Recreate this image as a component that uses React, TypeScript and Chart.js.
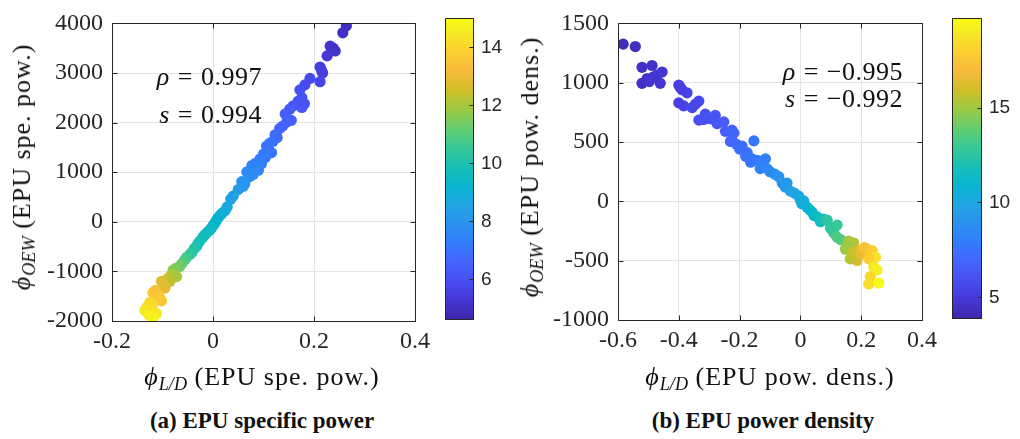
import React, { useEffect, useRef } from "react";
import { Chart, registerables } from "chart.js";

Chart.register(...registerables);

// ---------------- data: (a) EPU specific power ----------------
const A_X = [
  0.264, 0.257, 0.232, 0.242, 0.235, 0.238, 0.226, 0.212, 0.215, 0.217,
  0.212, 0.192, 0.182, 0.172, 0.176, 0.169, 0.176, 0.181, 0.159, 0.152,
  0.143, 0.155, 0.146, 0.132, 0.138, 0.123, 0.127, 0.119, 0.106, 0.112,
  0.116, 0.1, 0.104, 0.093, 0.096, 0.077, 0.084, 0.09, 0.067, 0.073,
  0.08, 0.057, 0.06, 0.063, 0.05, 0.035, 0.04, 0.024, 0.028, 0.014,
  0.018, 0.007, 0.01, 0.001, 0.004, -0.006, -0.002, -0.01, -0.016, -0.02,
  -0.026, -0.03, -0.032, -0.037, -0.042, -0.046, -0.052, -0.056, -0.062, -0.066,
  -0.079, -0.074, -0.072, -0.082, -0.089, -0.085, -0.102, -0.095, -0.098, -0.109,
  -0.119, -0.114, -0.102, -0.106, -0.125, -0.131, -0.12, -0.135, -0.122, -0.112,
  -0.119, -0.127,
];
const A_Y = [
  3950, 3810, 3540, 3445, 3475, 3500, 3345, 3120, 3050, 3000,
  2825, 2890, 2760, 2660, 2500, 2435, 2305, 2380, 2340, 2270,
  2175, 2045, 2010, 1880, 1930, 1755, 1700, 1625, 1525, 1580,
  1395, 1365, 1300, 1265, 1170, 1135, 1180, 1040, 1005, 910,
  960, 810, 715, 770, 650, 455, 520, 226, 300, 130,
  170, 30, 80, -66, -20, -165, -110, -200, -260, -310,
  -390, -440, -487, -540, -620, -660, -715, -770, -845, -900,
  -975, -940, -1105, -1060, -1140, -1200, -1200, -1335, -1270, -1460,
  -1430, -1380, -1595, -1520, -1625, -1720, -1680, -1790, -1755, -1850,
  -1950, -1880,
];
const A_C = [
  4.9, 5.0, 5.2, 5.1, 5.2, 5.1, 5.3, 5.5, 5.5, 5.5,
  5.7, 5.8, 5.9, 6.0, 6.1, 6.1, 6.2, 6.1, 6.2, 6.3,
  6.4, 6.5, 6.5, 6.7, 6.6, 6.8, 6.8, 6.9, 7.0, 7.0,
  7.1, 7.2, 7.2, 7.3, 7.4, 7.5, 7.4, 7.5, 7.7, 7.8,
  7.7, 8.0, 8.1, 8.0, 8.2, 8.5, 8.4, 8.8, 8.7, 9.0,
  8.9, 9.1, 9.1, 9.3, 9.2, 9.4, 9.4, 9.5, 9.6, 9.7,
  9.8, 9.9, 9.9, 10.1, 10.2, 10.4, 10.6, 10.8, 11.1, 11.3,
  11.8, 11.5, 12.0, 12.0, 12.4, 12.3, 12.8, 12.9, 12.8, 13.4,
  13.6, 13.4, 13.5, 13.6, 14.0, 14.3, 14.1, 14.5, 14.3, 14.5,
  14.9, 14.7,
];

// ---------------- data: (b) EPU power density ----------------
const B_X = [
  -0.583, -0.543, -0.521, -0.488, -0.504, -0.521, -0.471, -0.455, -0.461, -0.483,
  -0.497, -0.4, -0.389, -0.373, -0.395, -0.4, -0.384, -0.356, -0.334, -0.345,
  -0.334, -0.313, -0.296, -0.28, -0.274, -0.318, -0.252, -0.247, -0.225, -0.23,
  -0.219, -0.225, -0.21, -0.192, -0.2, -0.153, -0.175, -0.18, -0.164, -0.142,
  -0.126, -0.115, -0.159, -0.121, -0.132, -0.11, -0.1, -0.085, -0.071, -0.06,
  -0.044, -0.05, -0.033, -0.02, -0.006, 0.0, 0.011, 0.005, 0.022, 0.03,
  0.038, 0.045, 0.055, 0.066, 0.075, 0.088, 0.121, 0.099, 0.11, 0.105,
  0.132, 0.12, 0.159, 0.175, 0.165, 0.148, 0.155, 0.17, 0.192, 0.186,
  0.164, 0.18, 0.2, 0.219, 0.21, 0.236, 0.247, 0.225, 0.241, 0.252,
  0.23, 0.225, 0.258,
];
const B_Y = [
  1325, 1305, 1130, 1145, 1035, 995, 1065, 1090, 995, 1050,
  1010, 980, 940, 915, 960, 830, 805, 790, 845, 820,
  685, 735, 695, 725, 655, 690, 670, 590, 600, 505,
  575, 520, 480, 465, 440, 510, 410, 380, 330, 345,
  305, 358, 358, 345, 276, 276, 250, 230, 208, 154,
  154, 120, 86, 70, 45, 10, 4, -20, -50, -70,
  -90, -120, -131, -172, -150, -159, -200, -226, -267, -240,
  -322, -300, -335, -349, -360, -403, -370, -430, -416, -498,
  -484, -460, -440, -403, -390, -416, -471, -484, -552, -579,
  -634, -696, -688,
];
const B_C = [
  4.2, 4.3, 4.5, 4.6, 4.6, 4.5, 4.7, 4.8, 4.8, 4.7,
  4.7, 5.2, 5.3, 5.4, 5.2, 5.3, 5.4, 5.6, 5.7, 5.6,
  5.9, 6.0, 6.1, 6.2, 6.3, 6.0, 6.5, 6.6, 6.8, 6.9,
  6.9, 6.9, 7.1, 7.3, 7.3, 7.6, 7.5, 7.6, 7.7, 7.9,
  8.1, 8.0, 7.7, 8.1, 8.2, 8.4, 8.5, 8.7, 8.9, 9.2,
  9.3, 9.3, 9.6, 9.8, 10.0, 10.2, 10.3, 10.3, 10.6, 10.8,
  10.9, 11.0, 11.3, 11.6, 11.8, 12.5, 13.0, 12.6, 13.0, 12.8,
  13.6, 13.4, 15.0, 15.5, 15.3, 14.8, 14.9, 15.6, 16.3, 16.2,
  15.4, 15.8, 16.5, 17.5, 17.2, 18.0, 18.8, 17.8, 18.9, 19.2,
  18.3, 18.5, 19.6,
];

// ---------------- axes ----------------
const A_XTICKS = [-0.2, 0, 0.2, 0.4];
const A_YTICKS = [-2000, -1000, 0, 1000, 2000, 3000, 4000];
const B_XTICKS = [-0.6, -0.4, -0.2, 0, 0.2, 0.4];
const B_YTICKS = [-1000, -500, 0, 500, 1000, 1500];
const A_CTICKS = [6, 8, 10, 12, 14];
const B_CTICKS = [5, 10, 15];
const A_CRANGE = [4.6, 15.0];
const B_CRANGE = [3.86, 19.7];

// parula colormap anchors
const PARULA = [
  [0.2422, 0.1504, 0.6603], [0.2706, 0.2147, 0.8364], [0.2813, 0.3006, 0.9414],
  [0.2699, 0.3892, 0.9906], [0.1963, 0.4847, 0.9892], [0.1687, 0.5703, 0.9359],
  [0.1248, 0.6459, 0.8883], [0.0297, 0.7082, 0.8163], [0.0964, 0.75, 0.712],
  [0.2161, 0.7843, 0.5923], [0.3909, 0.8029, 0.4354], [0.6174, 0.7876, 0.2612],
  [0.8203, 0.7498, 0.1535], [0.9728, 0.7298, 0.2394], [0.9892, 0.8136, 0.1885],
  [0.9597, 0.9135, 0.1423], [0.9769, 0.9839, 0.0805],
];
const PARULA_POS = [0, 4, 8, 12, 16, 20, 24, 28, 32, 36, 40, 44, 48, 52, 56, 60, 63].map((i) => i / 63);

function parula(t: number): string {
  const tt = Math.max(0, Math.min(1, t));
  let k = 0;
  while (k < PARULA_POS.length - 2 && tt > PARULA_POS[k + 1]) k++;
  const f = (tt - PARULA_POS[k]) / (PARULA_POS[k + 1] - PARULA_POS[k]);
  const a = PARULA[k], b = PARULA[k + 1];
  const c = a.map((v, i) => Math.round(255 * (v + (b[i] - v) * f)));
  return `rgb(${c[0]},${c[1]},${c[2]})`;
}

const AXIS_COLOR = "#262626";
const SERIF = "Liberation Serif";
const SANS = "Liberation Sans";

const boxPlugin = {
  id: "box",
  afterDatasetsDraw(chart: any) {
    const { ctx, chartArea, scales } = chart;
    const { left, right, top, bottom } = chartArea;
    ctx.save();
    ctx.strokeStyle = AXIS_COLOR;
    ctx.lineWidth = 1;
    ctx.beginPath();
    const L = Math.round(left) + 0.5, R = Math.round(right) + 0.5;
    const T = Math.round(top) + 0.5, B = Math.round(bottom) + 0.5;
    ctx.rect(L, T, R - L, B - T);
    const tl = 5;
    scales.x.ticks.forEach((t: any) => {
      const p = Math.round(scales.x.getPixelForValue(t.value)) + 0.5;
      ctx.moveTo(p, B); ctx.lineTo(p, B - tl);
      ctx.moveTo(p, T); ctx.lineTo(p, T + tl);
    });
    scales.y.ticks.forEach((t: any) => {
      const p = Math.round(scales.y.getPixelForValue(t.value)) + 0.5;
      ctx.moveTo(L, p); ctx.lineTo(L + tl, p);
      ctx.moveTo(R, p); ctx.lineTo(R - tl, p);
    });
    ctx.stroke();
    ctx.restore();
  },
};

const colorbarPlugin = {
  id: "cbar",
  beforeDatasetsDraw(chart: any) {
    const { ctx, chartArea, scales } = chart;
    const { left, right, top, bottom } = chartArea;
    const ys = scales.y;
    const g = ctx.createLinearGradient(0, bottom, 0, top);
    PARULA.forEach((c, i) => {
      g.addColorStop(PARULA_POS[i], `rgb(${Math.round(c[0] * 255)},${Math.round(c[1] * 255)},${Math.round(c[2] * 255)})`);
    });
    ctx.save();
    ctx.fillStyle = g;
    ctx.fillRect(left, top, right - left, bottom - top);
    ctx.strokeStyle = AXIS_COLOR;
    ctx.lineWidth = 1;
    const L = Math.round(left) + 0.5, R = Math.round(right) - 0.5;
    const T = Math.round(top) + 0.5, B = Math.round(bottom) - 0.5;
    ctx.beginPath();
    ctx.rect(L, T, R - L, B - T);
    ys.ticks.forEach((t: any) => {
      const p = Math.round(ys.getPixelForValue(t.value)) + 0.5;
      ctx.moveTo(R, p); ctx.lineTo(R - 4, p);
    });
    ctx.stroke();
    ctx.restore();
  },
};

type PanelProps = {
  xs: number[]; ys: number[]; cs: number[]; crange: number[];
  xticks: number[]; yticks: number[];
  left: number; width: number; height: number;
  yAxisW: number; xAxisH: number; padTop: number; padRight: number;
};

function ScatterPanel(p: PanelProps) {
  const ref = useRef<HTMLCanvasElement | null>(null);
  useEffect(() => {
    if (!ref.current) return;
    const data = p.xs.map((x, i) => ({ x, y: p.ys[i] }));
    const colors = p.cs.map((c) => parula((c - p.crange[0]) / (p.crange[1] - p.crange[0])));
    const tickFont = { family: SERIF, size: 24 };
    const chart = new Chart(ref.current, {
      type: "scatter",
      data: {
        datasets: [
          {
            data,
            pointBackgroundColor: colors,
            pointBorderWidth: 0,
            pointRadius: 5.6,
            pointHoverRadius: 5.6,
          },
        ],
      },
      options: {
        animation: false,
        responsive: false,
        events: [],
        layout: { padding: { top: p.padTop, right: p.padRight, left: 0, bottom: 0 } },
        plugins: { legend: { display: false }, tooltip: { enabled: false } },
        scales: {
          x: {
            type: "linear",
            min: p.xticks[0],
            max: p.xticks[p.xticks.length - 1],
            afterBuildTicks: (s: any) => { s.ticks = p.xticks.map((v) => ({ value: v })); },
            afterFit: (s: any) => { s.height = p.xAxisH; },
            grid: { color: "#e4e4e4", drawTicks: false },
            border: { display: false },
            ticks: { padding: 6, color: AXIS_COLOR, font: tickFont, maxRotation: 0, autoSkip: false, callback: (v: any) => String(v) },
          },
          y: {
            type: "linear",
            min: p.yticks[0],
            max: p.yticks[p.yticks.length - 1],
            afterBuildTicks: (s: any) => { s.ticks = p.yticks.map((v) => ({ value: v })); },
            afterFit: (s: any) => { s.width = p.yAxisW; },
            grid: { color: "#e4e4e4", drawTicks: false },
            border: { display: false },
            ticks: { padding: 9, color: AXIS_COLOR, font: tickFont, autoSkip: false, callback: (v: any) => String(v) },
          },
        },
      } as any,
      plugins: [boxPlugin],
    });
    return () => chart.destroy();
  }, []);
  return (
    <canvas
      ref={ref}
      width={p.width}
      height={p.height}
      style={{ position: "absolute", left: p.left, top: 0, width: p.width, height: p.height }}
    />
  );
}

type CbarProps = { left: number; width: number; height: number; crange: number[]; cticks: number[]; padLeft: number; padTop: number; padBottom: number; axisW: number };

function Colorbar(p: CbarProps) {
  const ref = useRef<HTMLCanvasElement | null>(null);
  useEffect(() => {
    if (!ref.current) return;
    const chart = new Chart(ref.current, {
      type: "scatter",
      data: { datasets: [{ data: [] }] },
      options: {
        animation: false,
        responsive: false,
        events: [],
        layout: { padding: { top: p.padTop, left: p.padLeft, bottom: p.padBottom, right: 0 } },
        plugins: { legend: { display: false }, tooltip: { enabled: false } },
        scales: {
          x: { display: false, min: 0, max: 1 },
          y: {
            type: "linear",
            position: "right",
            min: p.crange[0],
            max: p.crange[1],
            afterBuildTicks: (s: any) => { s.ticks = p.cticks.map((v) => ({ value: v })); },
            afterFit: (s: any) => { s.width = p.axisW; },
            grid: { display: false, drawTicks: false },
            border: { display: false },
            ticks: { padding: 7, color: AXIS_COLOR, font: { family: SANS, size: 19 }, callback: (v: any) => String(v) },
          },
        },
      } as any,
      plugins: [colorbarPlugin],
    });
    return () => chart.destroy();
  }, []);
  return (
    <canvas
      ref={ref}
      width={p.width}
      height={p.height}
      style={{ position: "absolute", left: p.left, top: 0, width: p.width, height: p.height }}
    />
  );
}

const txt = (x: number, y: number, extra: React.CSSProperties = {}): React.CSSProperties => ({
  position: "absolute",
  left: x,
  top: y,
  transform: "translate(-50%, -50%)",
  whiteSpace: "nowrap",
  fontFamily: "'Liberation Serif', serif",
  fontSize: 26,
  letterSpacing: 1,
  color: "#111",
  lineHeight: 1,
  ...extra,
});

const Sub = ({ children }: { children: React.ReactNode }) => (
  <span style={{ fontStyle: "italic", fontSize: "0.7em", position: "relative", top: "0.3em", letterSpacing: 0 }}>{children}</span>
);
const Eq = () => <span style={{ margin: "0 8px" }}>=</span>;

const annot: React.CSSProperties = { fontSize: 26, letterSpacing: 0.5 };

export default function App() {
  return (
    <div style={{ position: "absolute", left: 0, top: 0, width: 1020, height: 439, background: "#fff", overflow: "hidden" }}>
      <ScatterPanel
        xs={A_X} ys={A_Y} cs={A_C} crange={A_CRANGE}
        xticks={A_XTICKS} yticks={A_YTICKS}
        left={0} width={440} height={400}
        yAxisW={112} xAxisH={79} padTop={13} padRight={25}
      />
      <Colorbar left={440} width={80} height={340} crange={A_CRANGE} cticks={A_CTICKS} padLeft={5} padTop={12} padBottom={20} axisW={46} />
      <ScatterPanel
        xs={B_X} ys={B_Y} cs={B_C} crange={B_CRANGE}
        xticks={B_XTICKS} yticks={B_YTICKS}
        left={510} width={437} height={400}
        yAxisW={108} xAxisH={80} padTop={13} padRight={25}
      />
      <Colorbar left={947} width={73} height={340} crange={B_CRANGE} cticks={B_CTICKS} padLeft={5} padTop={13} padBottom={21} axisW={38} />

      {/* axis titles */}
      <div style={txt(262, 377)}>
        <i>ϕ</i><Sub>L/D</Sub> (EPU spe. pow.)
      </div>
      <div style={txt(770, 377)}>
        <i>ϕ</i><Sub>L/D</Sub> (EPU pow. dens.)
      </div>
      <div style={txt(22, 167, { transform: "translate(-50%, -50%) rotate(-90deg)" })}>
        <i>ϕ</i><Sub>OEW</Sub> (EPU spe. pow.)
      </div>
      <div style={txt(530, 167, { transform: "translate(-50%, -50%) rotate(-90deg)" })}>
        <i>ϕ</i><Sub>OEW</Sub> (EPU pow. dens.)
      </div>

      {/* annotations */}
      <div style={{ ...txt(262, 77), ...annot, transform: "translate(-100%, -50%)" }}>
        <i>ρ</i><Eq />0.997
      </div>
      <div style={{ ...txt(262, 115), ...annot, transform: "translate(-100%, -50%)" }}>
        <i>s</i><Eq />0.994
      </div>
      <div style={{ ...txt(903, 72), ...annot, transform: "translate(-100%, -50%)" }}>
        <i>ρ</i><Eq />−0.995
      </div>
      <div style={{ ...txt(903, 99), ...annot, transform: "translate(-100%, -50%)" }}>
        <i>s</i><Eq />−0.992
      </div>

      {/* captions */}
      <div style={txt(262, 420, { fontWeight: "bold", fontSize: 23, letterSpacing: 0 })}>(a) EPU specific power</div>
      <div style={txt(763, 420, { fontWeight: "bold", fontSize: 23, letterSpacing: 0 })}>(b) EPU power density</div>
    </div>
  );
}
